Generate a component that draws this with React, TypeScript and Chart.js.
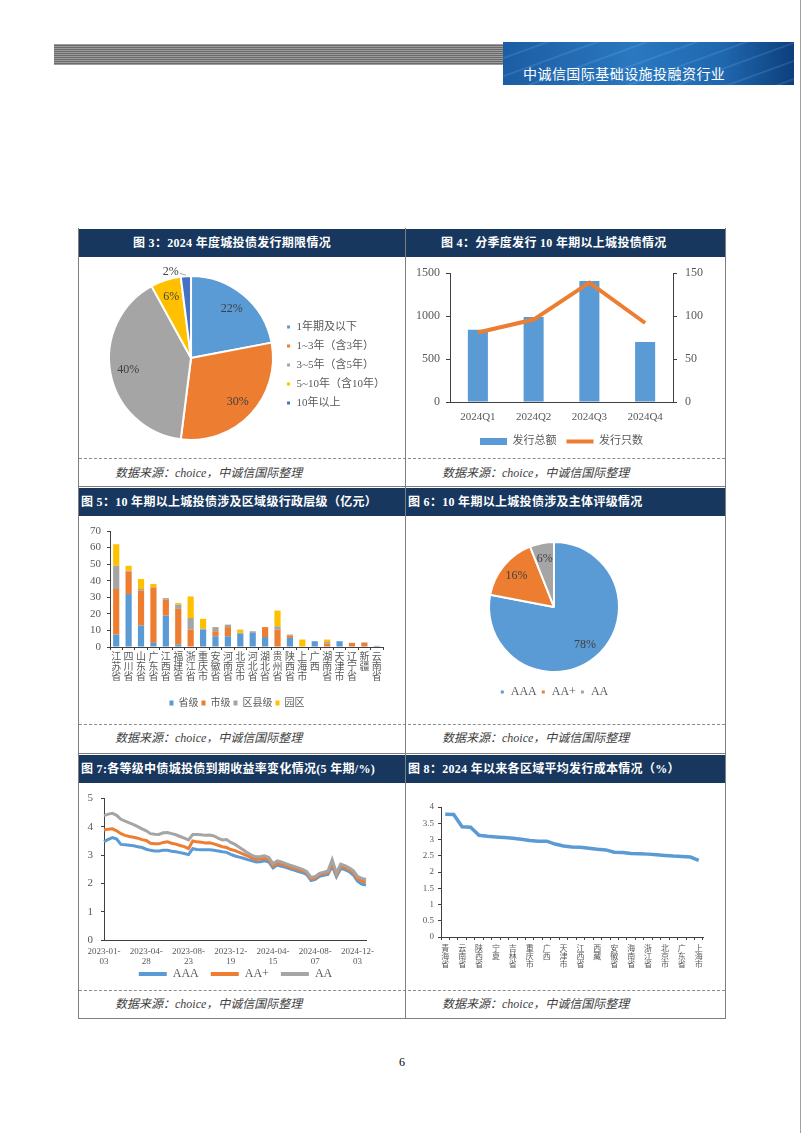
import React, { useEffect, useRef } from 'react';
import { Chart, registerables } from 'chart.js';

Chart.register(...registerables);

const SERIF = '"Liberation Serif", "Times New Roman", "Noto Sans CJK SC", serif';
const TXT = '#595959';
const AXIS = '#404040';
const NAVY = '#17375E';
const C_BLUE = '#5B9BD5';
const C_ORANGE = '#ED7D31';
const C_GRAY = '#A5A5A5';
const C_GOLD = '#FFC000';
const C_DBLUE = '#4472C4';

Chart.defaults.font.family = SERIF;
Chart.defaults.color = TXT;

// ---------- Fig 3 ----------
const fig3Labels = ['1年期及以下', '1~3年（含3年）', '3~5年（含5年）', '5~10年（含10年）', '10年以上'];
const fig3Values = [22, 30, 40, 6, 2];

// ---------- Fig 4 ----------
const fig4Quarters = ['2024Q1', '2024Q2', '2024Q3', '2024Q4'];
const fig4Amount = [840, 990, 1410, 700];
const fig4Count = [81, 96, 139, 92];

// ---------- Fig 5 ----------
const fig5Regions = ['江苏省', '四川省', '山东省', '广东省', '江西省', '福建省', '浙江省', '重庆市', '安徽省', '河南省', '北京市', '河北省', '湖北省', '贵州省', '陕西省', '上海市', '广西', '湖南省', '天津市', '辽宁省', '新疆', '云南省'];
const fig5Province = [7.5, 32, 13, 2.5, 19, 1.5, 0, 10.5, 6.5, 6.5, 8, 8.5, 6, 0, 5.5, 0, 3.5, 0, 3.5, 0, 0, 0.7];
const fig5City = [27.5, 13.5, 21, 33.5, 9.5, 21.5, 10.5, 0, 3, 5.5, 0, 0, 6, 10.5, 1.5, 0, 0, 2, 0, 2.5, 2.5, 0];
const fig5County = [14, 0.5, 1, 0, 1, 2.5, 7, 0.5, 2.5, 1.5, 0.5, 1, 0, 2, 0.5, 0, 0, 1, 0, 0, 0.3, 0];
const fig5Park = [13, 3, 6, 2, 0, 1, 13, 6, 0, 0, 2, 0, 0, 9.5, 0, 4.5, 0, 1.5, 0, 0, 0, 0];

// ---------- Fig 6 ----------
const fig6Labels = ['AAA', 'AA+', 'AA'];
const fig6Values = [78, 16, 6];

// ---------- Fig 7 ----------
const fig7TickLabels = ['2023-01-03', '2023-04-28', '2023-08-23', '2023-12-19', '2024-04-15', '2024-08-07', '2024-12-03'];
const fig7AAA = [3.48, 3.56, 3.62, 3.57, 3.38, 3.37, 3.35, 3.33, 3.30, 3.27, 3.21, 3.17, 3.15, 3.15, 3.17, 3.17, 3.14, 3.12, 3.09, 3.06, 3.02, 3.23, 3.20, 3.19, 3.19, 3.19, 3.17, 3.15, 3.12, 3.10, 3.03,
  2.97, 2.93, 2.89, 2.84, 2.80, 2.76, 2.77, 2.80, 2.76, 2.55, 2.65, 2.61, 2.57, 2.52, 2.47, 2.42, 2.38, 2.31, 2.10, 2.14, 2.25, 2.29, 2.32, 2.62, 2.24, 2.53, 2.49, 2.42, 2.30, 2.08, 1.98, 1.94];
const fig7AAplus = [3.89, 3.92, 3.93, 3.86, 3.76, 3.70, 3.66, 3.63, 3.60, 3.55, 3.52, 3.42, 3.40, 3.40, 3.45, 3.47, 3.42, 3.39, 3.34, 3.30, 3.23, 3.50, 3.47, 3.46, 3.43, 3.44, 3.40, 3.35, 3.30, 3.27, 3.20,
  3.16, 3.10, 3.04, 2.97, 2.90, 2.85, 2.86, 2.89, 2.84, 2.62, 2.72, 2.68, 2.63, 2.58, 2.53, 2.48, 2.44, 2.37, 2.16, 2.20, 2.31, 2.35, 2.38, 2.72, 2.30, 2.60, 2.56, 2.48, 2.38, 2.16, 2.08, 2.05];
const fig7AA = [4.40, 4.45, 4.48, 4.41, 4.27, 4.20, 4.14, 4.08, 4.01, 3.93, 3.86, 3.76, 3.74, 3.73, 3.79, 3.80, 3.76, 3.72, 3.66, 3.60, 3.54, 3.73, 3.73, 3.72, 3.70, 3.71, 3.68, 3.60, 3.54, 3.55, 3.45,
  3.38, 3.28, 3.18, 3.08, 2.99, 2.94, 2.95, 2.98, 2.92, 2.70, 2.80, 2.76, 2.70, 2.65, 2.60, 2.55, 2.50, 2.42, 2.21, 2.25, 2.36, 2.40, 2.44, 2.84, 2.36, 2.68, 2.63, 2.55, 2.45, 2.25, 2.18, 2.14];
const fig7TickEvery = 10;

// ---------- Fig 8 ----------
const fig8Regions = ['青海省', '甘肃省', '云南省', '贵州省', '陕西省', '内蒙古', '宁夏', '辽宁省', '吉林省', '黑龙江省', '重庆市', '湖南省', '广西', '新疆', '天津市', '河南省', '江西省', '山西省', '西藏', '湖北省', '安徽省', '河北省', '海南省', '四川省', '浙江省', '山东省', '北京市', '福建省', '广东省', '江苏省', '上海市'];
const fig8Cost = [3.78, 3.77, 3.39, 3.38, 3.13, 3.10, 3.08, 3.06, 3.04, 3.01, 2.97, 2.95, 2.95, 2.86, 2.80, 2.77, 2.76, 2.73, 2.70, 2.68, 2.61, 2.60, 2.57, 2.56, 2.55, 2.53, 2.51, 2.49, 2.48, 2.46, 2.36];

// ---------- plugins ----------
const pieLabelPlugin = {
  id: 'pieLabels',
  afterDatasetsDraw(chart: any, _args: any, opts: any) {
    const { ctx } = chart;
    const meta = chart.getDatasetMeta(0);
    const values = chart.data.datasets[0].data as number[];
    ctx.save();
    ctx.font = opts.font;
    ctx.fillStyle = opts.color;
    ctx.textBaseline = 'middle';
    meta.data.forEach((arc: any, i: number) => {
      const p = arc.getProps(['x', 'y', 'startAngle', 'endAngle', 'outerRadius'], true);
      const mid = (p.startAngle + p.endAngle) / 2;
      const text = values[i] + '%';
      if (values[i] < (opts.smallBelow || 0)) {
        const ex = p.x + Math.cos(mid) * (p.outerRadius + 1);
        const ey = p.y + Math.sin(mid) * (p.outerRadius + 1);
        const lx = ex - 6;
        const ly = ey - 2;
        ctx.strokeStyle = '#a6a6a6';
        ctx.lineWidth = 1;
        ctx.beginPath();
        ctx.moveTo(ex, ey);
        ctx.lineTo(lx, ly);
        ctx.stroke();
        ctx.textAlign = 'right';
        ctx.fillText(text, lx - 1, ly - 1);
      } else {
        ctx.textAlign = 'center';
        const r = p.outerRadius * opts.frac;
        ctx.fillText(text, p.x + Math.cos(mid) * r, p.y + Math.sin(mid) * r);
      }
    });
    ctx.restore();
  },
};

const tickGrid = (len: number) => ({ display: true, drawOnChartArea: false, drawTicks: true, tickLength: len, color: AXIS, lineWidth: 1 });
const noGrid = { display: false, drawTicks: false };
const border = { display: true, color: AXIS, width: 1 };
const plainNum = (v: any) => String(v);
const spacer = (w: number) => ({
  position: 'right',
  display: true,
  grid: { display: false, drawTicks: false },
  border: { display: false },
  ticks: { display: false },
  afterFit: (s: any) => { s.width = w; },
});

// ---------- configs ----------
function fig3Config(): any {
  return {
    type: 'pie',
    data: {
      labels: fig3Labels,
      datasets: [{ data: fig3Values, backgroundColor: [C_BLUE, C_ORANGE, C_GRAY, C_GOLD, C_DBLUE], borderColor: '#ffffff', borderWidth: 2, hoverOffset: 0 }],
    },
    options: {
      animation: false, responsive: false, events: [],
      layout: { padding: { left: 25, right: 10, top: 17, bottom: 17 } },
      plugins: {
        legend: {
          position: 'right',
          title: { display: true, text: ' ', font: { size: 10, lineHeight: 1.2 }, padding: { top: 0, bottom: 2 } },
          labels: { boxWidth: 5, boxHeight: 5, padding: 8, color: TXT, font: { size: 11 } },
        },
        tooltip: { enabled: false },
        pieLabels: { frac: 0.78, smallBelow: 3, font: '12px ' + SERIF, color: '#404040' },
      },
    },
    plugins: [pieLabelPlugin],
  };
}

function fig4Config(): any {
  return {
    type: 'bar',
    data: {
      labels: fig4Quarters,
      datasets: [
        { type: 'bar', label: '发行总额', data: fig4Amount, backgroundColor: C_BLUE, yAxisID: 'y', barPercentage: 0.36, categoryPercentage: 1, order: 2 },
        { type: 'line', label: '发行只数', data: fig4Count, borderColor: C_ORANGE, backgroundColor: C_ORANGE, borderWidth: 4, pointRadius: 0, tension: 0, yAxisID: 'y1', order: 1 },
      ],
    },
    options: {
      animation: false, responsive: false, events: [],
      layout: { padding: { left: 0, right: 7, top: 15, bottom: 1 } },
      scales: {
        x: { grid: noGrid, border, ticks: { padding: 9, font: { size: 11 }, maxRotation: 0 }, afterFit: (s: any) => { s.height = 24; } },
        y: { position: 'left', min: 0, max: 1500, ticks: { stepSize: 500, padding: 6, font: { size: 12 }, callback: plainNum }, grid: tickGrid(4), border, afterFit: (s: any) => { s.width = 44; } },
        y1: { position: 'right', min: 0, max: 150, ticks: { stepSize: 50, padding: 8, font: { size: 12 }, callback: plainNum }, grid: tickGrid(4), border, afterFit: (s: any) => { s.width = 44; } },
      },
      plugins: {
        tooltip: { enabled: false },
        legend: {
          position: 'bottom',
          labels: {
            usePointStyle: true, pointStyleWidth: 27, boxHeight: 7, padding: 10, color: TXT, font: { size: 11 },
            generateLabels: (chart: any) => chart.data.datasets.map((ds: any, i: number) => ({
              text: ds.label,
              fillStyle: ds.type === 'line' ? ds.borderColor : ds.backgroundColor,
              strokeStyle: ds.type === 'line' ? ds.borderColor : ds.backgroundColor,
              lineWidth: ds.type === 'line' ? 4 : 0,
              pointStyle: ds.type === 'line' ? 'line' : 'rect',
              hidden: false, datasetIndex: i, fontColor: TXT,
            })),
          },
        },
      },
    },
  };
}

function fig5Config(): any {
  const mk = (label: string, data: number[], color: string) => ({ label, data, backgroundColor: color, stack: 's', barPercentage: 0.5, categoryPercentage: 1 });
  return {
    type: 'bar',
    data: {
      labels: fig5Regions,
      datasets: [mk('省级', fig5Province, C_BLUE), mk('市级', fig5City, C_ORANGE), mk('区县级', fig5County, C_GRAY), mk('园区', fig5Park, C_GOLD)],
    },
    options: {
      animation: false, responsive: false, events: [],
      layout: { padding: { left: 0, right: 0, top: 14, bottom: 4 } },
      scales: {
        x: {
          stacked: true, grid: { ...tickGrid(3), offset: true }, border,
          ticks: { autoSkip: false, maxRotation: 0, minRotation: 0, padding: 2, font: { size: 10, lineHeight: 1 }, callback: (_v: any, i: number) => fig5Regions[i].split('') },
          afterFit: (s: any) => { s.height = 48; },
        },
        y: { stacked: true, min: 0, max: 70, ticks: { stepSize: 10, autoSkip: false, padding: 6, font: { size: 11 } }, grid: tickGrid(3), border, afterFit: (s: any) => { s.width = 31; } },
        yr: spacer(12),
      },
      plugins: {
        tooltip: { enabled: false },
        legend: { position: 'bottom', labels: { boxWidth: 4, boxHeight: 5, padding: 3, color: TXT, font: { size: 10 } } },
      },
    },
  };
}

function fig6Config(): any {
  return {
    type: 'pie',
    data: {
      labels: fig6Labels,
      datasets: [{ data: fig6Values, backgroundColor: [C_BLUE, C_ORANGE, C_GRAY], borderColor: '#ffffff', borderWidth: 2, hoverOffset: 0 }],
    },
    options: {
      animation: false, responsive: false, events: [],
      layout: { padding: { left: 0, right: 22, top: 24, bottom: 14 } },
      plugins: {
        legend: {
          position: 'bottom',
          title: { display: true, text: ' ', font: { size: 9, lineHeight: 1 }, padding: 0 },
          labels: { boxWidth: 5, boxHeight: 5, padding: 4, color: TXT, font: { size: 12 } },
        },
        tooltip: { enabled: false },
        pieLabels: { frac: 0.75, smallBelow: 0, font: '12px ' + SERIF, color: '#404040' },
      },
    },
    plugins: [pieLabelPlugin],
  };
}

function fig7Config(): any {
  const labels = fig7AAA.map((_, i) => (i % fig7TickEvery === 0 ? fig7TickLabels[i / fig7TickEvery] || '' : ''));
  const ds = (label: string, data: number[], color: string, order: number) => ({ label, data, borderColor: color, backgroundColor: color, borderWidth: 3, pointRadius: 0, tension: 0, order });
  return {
    type: 'line',
    data: {
      labels,
      datasets: [ds('AAA', fig7AAA, C_BLUE, 3), ds('AA+', fig7AAplus, C_ORANGE, 2), ds('AA', fig7AA, C_GRAY, 1)],
    },
    options: {
      animation: false, responsive: false, events: [],
      layout: { padding: { left: 0, right: 12, top: 14, bottom: 0 } },
      scales: {
        x: {
          grid: noGrid, border,
          ticks: {
            autoSkip: false, maxRotation: 0, minRotation: 0, padding: 6, font: { size: 9, lineHeight: 1.15 },
            callback: (_v: any, i: number) => { const s = labels[i]; return s ? [s.slice(0, 8), s.slice(8)] : ''; },
          },
          afterFit: (s: any) => { s.height = 28; },
        },
        y: { min: 0, max: 5, ticks: { stepSize: 1, padding: 8, font: { size: 11 } }, grid: tickGrid(3), border, afterFit: (s: any) => { s.width = 25; } },
        yr: spacer(26),
      },
      plugins: {
        tooltip: { enabled: false },
        legend: {
          position: 'bottom',
          labels: {
            usePointStyle: true, pointStyleWidth: 28, padding: 0, color: TXT, font: { size: 12 },
            generateLabels: (chart: any) => chart.data.datasets.map((d: any, i: number, arr: any[]) => ({
              text: i < arr.length - 1 ? d.label + '    ' : d.label,
              fillStyle: d.borderColor, strokeStyle: d.borderColor, lineWidth: 4, lineCap: 'butt',
              pointStyle: 'line', hidden: false, datasetIndex: i, fontColor: TXT,
            })),
          },
        },
      },
    },
  };
}

function fig8Config(): any {
  return {
    type: 'line',
    data: {
      labels: fig8Regions,
      datasets: [{ label: '平均发行成本', data: fig8Cost, borderColor: C_BLUE, borderWidth: 3.5, pointRadius: 0, tension: 0 }],
    },
    options: {
      animation: false, responsive: false, events: [],
      layout: { padding: { left: 0, right: 21, top: 23, bottom: 0 } },
      scales: {
        x: {
          offset: true, grid: { ...tickGrid(3), offset: true }, border,
          ticks: { autoSkip: false, maxRotation: 0, minRotation: 0, padding: 5, font: { size: 8, lineHeight: 1 }, callback: (_v: any, i: number) => (i % 2 === 0 ? fig8Regions[i].split('') : '') },
          afterFit: (s: any) => { s.height = 52; },
        },
        y: { min: 0, max: 4, ticks: { stepSize: 0.5, autoSkip: false, padding: 4, font: { size: 9 }, callback: plainNum }, grid: tickGrid(3), border, afterFit: (s: any) => { s.width = 35; } },
      },
      plugins: { tooltip: { enabled: false }, legend: { display: false } },
    },
  };
}

// ---------- components ----------
function ChartCanvas({ x, y, w, h, make }: { x: number; y: number; w: number; h: number; make: () => any }) {
  const ref = useRef<HTMLCanvasElement | null>(null);
  useEffect(() => {
    if (!ref.current) return;
    const chart = new Chart(ref.current, make());
    return () => chart.destroy();
  }, []);
  return <canvas ref={ref} width={w} height={h} style={{ position: 'absolute', left: x, top: y, width: w, height: h, display: 'block' }} />;
}

const abs = (s: React.CSSProperties): React.CSSProperties => ({ position: 'absolute', ...s });

function TitleBar({ x, y, w, h, pad, text }: { x: number; y: number; w: number; h: number; pad: number; text: string }) {
  return (
    <div style={abs({ left: x, top: y, width: w, height: h, background: NAVY, color: '#ffffff', fontWeight: 'bold', fontSize: 12, lineHeight: h + 'px', paddingLeft: pad, boxSizing: 'border-box', whiteSpace: 'nowrap', fontFamily: SERIF, letterSpacing: 0.3 })}>
      {text}
    </div>
  );
}

function Source({ x, y }: { x: number; y: number }) {
  return (
    <div style={abs({ left: x, top: y - 8, height: 16, lineHeight: '16px', fontSize: 12, fontStyle: 'italic', color: '#404040', fontFamily: SERIF, whiteSpace: 'nowrap' })}>
      数据来源：choice，中诚信国际整理
    </div>
  );
}

export default function App() {
  const line = (s: React.CSSProperties) => <div style={abs({ background: '#7f7f7f', ...s })} />;
  const dash = (x: number, y: number, w: number) => <div style={abs({ left: x, top: y, width: w, height: 0, borderTop: '1px dashed #8c8c8c' })} />;
  return (
    <div style={abs({ left: 0, top: 0, width: 802, height: 1133, background: '#ffffff', overflow: 'hidden', fontFamily: SERIF })}>
      {/* header */}
      <div style={abs({ left: 54, top: 44, width: 449, height: 21, background: 'repeating-linear-gradient(180deg, #9c9c9c 0px, #9c9c9c 1px, #6a6a6a 1px, #6a6a6a 2px)' })} />
      <div style={abs({ left: 503, top: 42, width: 291, height: 43, background: 'linear-gradient(90deg, #1c5da3 0%, #2a78c0 45%, #1f68b0 75%, #0d3f7c 100%)', overflow: 'hidden' })}>
        <div style={abs({ left: 0, top: 0, width: 291, height: 43, background: 'repeating-linear-gradient(160deg, rgba(255,255,255,0) 0px, rgba(255,255,255,0) 14px, rgba(160,210,255,0.18) 15px, rgba(255,255,255,0) 17px)' })} />
        <div style={abs({ left: 20, top: 22, height: 18, lineHeight: '18px', color: '#ffffff', fontSize: 14, letterSpacing: 0.45, fontFamily: '"Noto Sans CJK SC", sans-serif', whiteSpace: 'nowrap' })}>
          中诚信国际基础设施投融资行业
        </div>
      </div>
      {line({ left: 800, top: 0, width: 1, height: 1133, background: '#a0a0a0' })}

      {/* title bars */}
      <TitleBar x={79} y={229} w={326} h={28} pad={54} text="图 3：2024 年度城投债发行期限情况" />
      <TitleBar x={406} y={229} w={319} h={28} pad={35} text="图 4：分季度发行 10 年期以上城投债情况" />
      <TitleBar x={79} y={488} w={326} h={28} pad={2} text="图 5：10 年期以上城投债涉及区域级行政层级（亿元）" />
      <TitleBar x={406} y={488} w={319} h={28} pad={2} text="图 6：10 年期以上城投债涉及主体评级情况" />
      <TitleBar x={79} y={755} w={326} h={28} pad={2} text="图 7:各等级中债城投债到期收益率变化情况(5 年期/%)" />
      <TitleBar x={406} y={755} w={319} h={28} pad={2} text="图 8：2024 年以来各区域平均发行成本情况（%）" />

      {/* charts */}
      <ChartCanvas x={79} y={258} w={326} h={200} make={fig3Config} />
      <ChartCanvas x={406} y={258} w={318} h={200} make={fig4Config} />
      <ChartCanvas x={79} y={517} w={316} h={205} make={fig5Config} />
      <ChartCanvas x={406} y={517} w={318} h={205} make={fig6Config} />
      <ChartCanvas x={79} y={784} w={325} h={206} make={fig7Config} />
      <ChartCanvas x={406} y={784} w={318} h={205} make={fig8Config} />

      {/* dashed separators & sources */}
      {dash(79, 458, 646)}
      {dash(79, 724, 646)}
      {dash(79, 990, 646)}
      <Source x={115} y={473} />
      <Source x={442} y={473} />
      <Source x={115} y={738} />
      <Source x={442} y={738} />
      <Source x={115} y={1004} />
      <Source x={442} y={1004} />

      {/* frame */}
      {line({ left: 78, top: 228, width: 1, height: 791 })}
      {line({ left: 405, top: 228, width: 1, height: 791 })}
      {line({ left: 725, top: 228, width: 1, height: 791 })}
      {line({ left: 78, top: 486, width: 648, height: 1 })}
      {line({ left: 78, top: 753, width: 648, height: 1 })}
      {line({ left: 78, top: 1018, width: 648, height: 1 })}

      <div style={abs({ left: 396, top: 1054, width: 12, textAlign: 'center', fontSize: 12, lineHeight: '16px', fontFamily: SERIF, color: '#000' })}>6</div>
    </div>
  );
}
